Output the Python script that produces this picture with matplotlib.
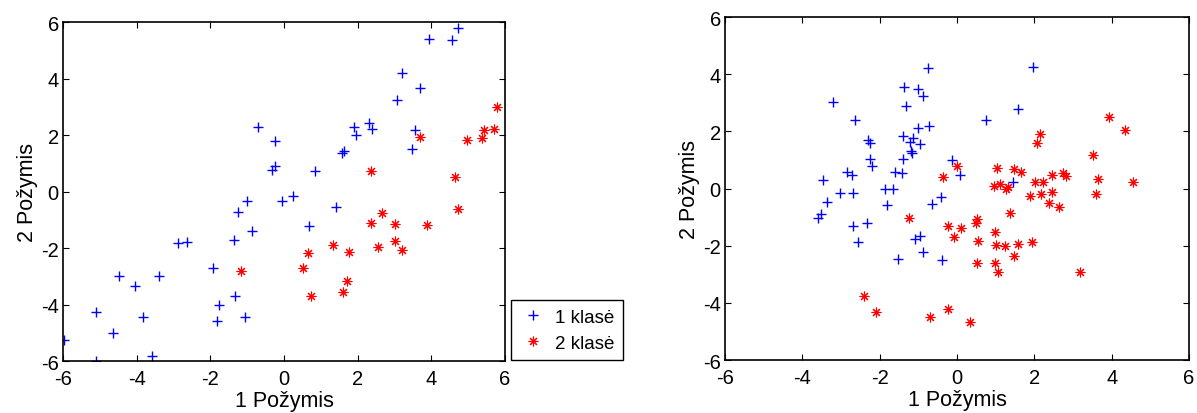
import matplotlib.pyplot as plt
from matplotlib.lines import Line2D

plt.rcParams["font.family"] = ["Liberation Sans", "DejaVu Sans"]
plt.rcParams["axes.unicode_minus"] = False

# left panel: class 1 (blue +) and class 2 (red *)
left_c1_x = [-5.96, -5.11, -5.11, -4.65, -4.48, -4.04, -3.84, -3.57, -3.39, -2.87,
             -2.64, -1.92, -1.81, -1.76, -1.33, -1.35, -1.26, -1.06, -1.01, -0.86,
             -0.70, -0.24, -0.33, -0.24, -0.06, 0.25, 0.69, 0.84, 1.41, 1.57,
             1.64, 1.90, 1.96, 2.32, 2.40, 3.06, 3.20, 3.47, 3.56, 3.68,
             3.94, 4.55, 4.73]
left_c1_y = [-5.26, -4.28, -5.99, -5.01, -2.98, -3.33, -4.45, -5.81, -2.98, -1.84,
             -1.80, -2.71, -4.57, -4.02, -3.69, -1.71, -0.71, -4.45, -0.33, -1.41,
             2.28, 1.80, 0.76, 0.91, -0.33, -0.17, -1.21, 0.74, -0.55, 1.38,
             1.44, 2.30, 2.00, 2.42, 2.20, 3.24, 4.20, 1.50, 2.18, 3.65,
             5.40, 5.36, 5.78]
left_c2_x = [-1.18, 0.51, 0.66, 0.72, 1.32, 1.59, 1.70, 1.77, 2.35, 2.35,
             2.54, 2.67, 3.00, 3.01, 3.20, 3.69, 3.87, 4.64, 4.73, 4.96,
             5.38, 5.43, 5.71, 5.79]
left_c2_y = [-2.80, -2.71, -2.18, -3.71, -1.89, -3.57, -3.16, -2.13, 0.74, -1.11,
             -1.95, -0.76, -1.15, -1.74, -2.07, 1.94, -1.19, 0.50, -0.62, 1.82,
             1.90, 2.19, 2.21, 3.00]

# right panel
right_c1_x = [-3.60, -3.52, -3.47, -3.35, -3.20, -3.03, -2.85, -2.72, -2.70, -2.70,
              -2.64, -2.57, -2.32, -2.29, -2.25, -2.25, -2.21, -1.86, -1.80, -1.66,
              -1.60, -1.53, -1.43, -1.39, -1.39, -1.37, -1.33, -1.20, -1.17, -1.13,
              -1.22, -1.09, -1.00, -0.89, -1.00, -0.96, -0.96, -0.89, -0.76, -0.72,
              -0.65, -0.42, -0.40, -0.14, 0.08, 0.75, 1.46, 1.58, 1.96]
right_c1_y = [-1.04, -0.88, 0.31, -0.47, 3.04, -0.17, 0.57, 0.47, -0.17, -1.30,
              2.41, -1.88, -1.22, 1.71, 1.59, 1.03, 0.78, -0.02, -0.56, 0.00,
              0.59, -2.45, 0.55, 1.03, 1.84, 3.54, 2.88, 1.32, 1.23, 1.78,
              1.62, -1.78, 3.48, 3.25, 2.11, 1.56, -1.66, -2.21, 4.20, 2.18,
              -0.54, -0.31, -2.49, 1.00, 0.48, 2.41, 0.22, 2.78, 4.24]
right_c2_x = [-2.40, -2.10, -1.23, -0.70, -0.37, -0.23, -0.23, -0.08, 0.01, 0.10,
              0.34, 0.51, 0.49, 0.51, 0.55, 0.96, 0.98, 0.98, 1.00, 1.03,
              1.05, 1.11, 1.24, 1.27, 1.33, 1.37, 1.48, 1.48, 1.58, 1.65,
              1.89, 1.93, 2.02, 2.08, 2.15, 2.16, 2.22, 2.39, 2.45, 2.45,
              2.65, 2.73, 2.82, 3.18, 3.52, 3.59, 3.64, 3.94, 4.34, 4.56]
right_c2_y = [-3.77, -4.33, -1.04, -4.49, 0.39, -1.30, -4.22, -1.69, 0.78, -1.38,
              -4.68, -1.07, -1.21, -2.62, -1.83, 0.10, -1.53, -2.62, -1.98, 0.71,
              -2.93, 0.16, -2.00, -0.02, 0.04, -0.87, 0.68, -2.37, -1.94, 0.59,
              -0.25, -1.86, 0.22, 1.59, 1.91, -0.19, 0.22, -0.52, 0.47, -0.13,
              -0.66, 0.54, 0.43, -2.93, 1.17, -0.19, 0.33, 2.49, 2.06, 0.22]

ticks = [-6, -4, -2, 0, 2, 4, 6]
legend_labels = ["1 klasė", "2 klasė"]

# matlab-like markers: thin plus and 8-armed asterisk
plus_style = dict(linestyle="none", marker="+", color="#0000ff",
                  markersize=7, markeredgewidth=1.0)
star_style = dict(linestyle="none", marker=(8, 2, 0), color="#ff0000",
                  markersize=7, markeredgewidth=0.8)

fig = plt.figure(figsize=(11.97, 4.14), dpi=100)
ax1 = fig.add_axes([0.0526, 0.1256, 0.3693, 0.8188])
ax2 = fig.add_axes([0.6057, 0.128, 0.3876, 0.8285])

panels = [
    (ax1, left_c1_x, left_c1_y, left_c2_x, left_c2_y),
    (ax2, right_c1_x, right_c1_y, right_c2_x, right_c2_y),
]
for ax, x1, y1, x2, y2 in panels:
    ax.plot(x1, y1, **plus_style)
    ax.plot(x2, y2, **star_style)
    ax.set_xlim(-6, 6)
    ax.set_ylim(-6, 6)
    ax.set_xticks(ticks)
    ax.set_yticks(ticks)
    ax.tick_params(direction="in", top=True, right=True, length=4,
                   labelsize=14.5)
    ax.tick_params(axis="x", pad=6)
    ax.tick_params(axis="y", pad=3)
    ax.set_xlabel("1 Požymis", fontsize=15.5, labelpad=1)
    ax.set_ylabel("2 Požymis", fontsize=15.5, labelpad=2)
    for s in ax.spines.values():
        s.set_linewidth(1.2)

handles = [Line2D([], [], **plus_style), Line2D([], [], **star_style)]
leg = fig.legend(handles, legend_labels, loc="lower left",
                 bbox_to_anchor=(0.427, 0.128), borderaxespad=0,
                 fontsize=13.5, fancybox=False, edgecolor="black",
                 framealpha=1, handletextpad=0.5, labelspacing=0.45,
                 borderpad=0.45, handlelength=1.4)
leg.get_frame().set_linewidth(1.0)

fig.savefig("out.png", dpi=100)
